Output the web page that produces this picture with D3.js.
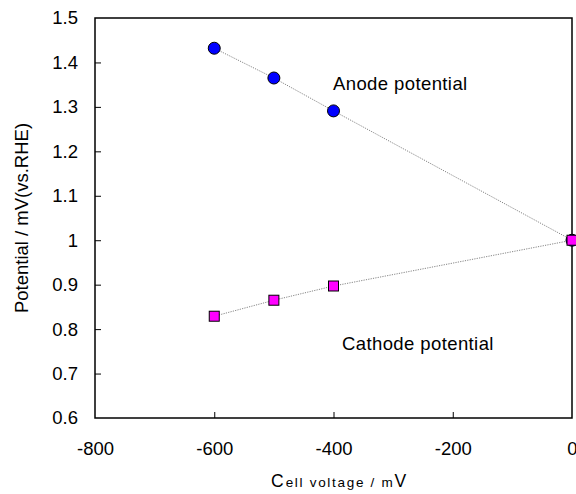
<!DOCTYPE html>
<html><head><meta charset="utf-8">
<script src="https://cdn.jsdelivr.net/npm/d3@7"></script>
<style>body{margin:0;background:#fff}svg{display:block}text{font-family:"Liberation Sans",Arial,sans-serif;fill:#000}</style>
</head><body><svg id="c" width="576" height="494"></svg>
<script>
const cellVoltage = [-600, -500, -400, 0];
const anodePotential = [1.432, 1.365, 1.291, 1.0];
const cathodePotential = [0.829, 0.865, 0.897, 1.0];
const xTicks = [-800, -600, -400, -200, 0];
const yTicks = [0.6, 0.7, 0.8, 0.9, 1.0, 1.1, 1.2, 1.3, 1.4, 1.5];

const svg = d3.select("#c");
const L = 95, R = 572, T = 18, B = 418;
const x = d3.scaleLinear().domain([-800, 0]).range([L, R]);
const y = d3.scaleLinear().domain([0.6, 1.5]).range([B, T]);

// frame
svg.append("rect").attr("x", L).attr("y", T).attr("width", R - L).attr("height", B - T)
  .attr("fill", "none").attr("stroke", "#000").attr("stroke-width", 1.5);

// axes
const xAxis = d3.axisBottom(x).tickValues(xTicks).tickSize(-6).tickPadding(24).tickFormat(d => String(d));
const gx = svg.append("g").attr("transform", `translate(0,${B})`).call(xAxis);
const yAxis = d3.axisLeft(y).tickValues(yTicks).tickSize(-6).tickPadding(17).tickFormat(d => d === 1 ? "1" : d.toFixed(1));
const gy = svg.append("g").attr("transform", `translate(${L},0)`).call(yAxis);
[gx, gy].forEach(g => {
  g.select(".domain").remove();
  g.selectAll(".tick line").attr("stroke", "#000").attr("stroke-width", 1);
  g.selectAll("text").attr("font-size", 18.5).attr("font-family", "Liberation Sans, Arial, sans-serif").attr("fill", "#000");
});
gy.selectAll(".tick").filter(d => d === 0.6 || d === 1.5).select("line").remove();
gx.selectAll(".tick").filter(d => d === -800 || d === 0).select("line").remove();

// lines
const line = d3.line().x((d, i) => x(cellVoltage[i])).y(d => y(d));
[anodePotential, cathodePotential].forEach(s => {
  svg.append("path").attr("d", line(s)).attr("fill", "none")
    .attr("stroke", "#777").attr("stroke-width", 0.9).attr("stroke-dasharray", "1.2,1.2");
});

// markers
svg.selectAll(".an").data(anodePotential).enter().append("circle")
  .attr("cx", (d, i) => x(cellVoltage[i])).attr("cy", d => y(d)).attr("r", 6)
  .attr("fill", "#0000ff").attr("stroke", "#000").attr("stroke-width", 1);
svg.selectAll(".ca").data(cathodePotential).enter().append("rect")
  .attr("x", (d, i) => x(cellVoltage[i]) - 5).attr("y", d => y(d) - 5)
  .attr("width", 10).attr("height", 10)
  .attr("fill", "#ff00ff").attr("stroke", "#000").attr("stroke-width", 1);

// annotations
svg.append("text").attr("x", 333).attr("y", 89.5).attr("font-size", 18.5).attr("letter-spacing", 0.4).text("Anode potential");
svg.append("text").attr("x", 342).attr("y", 349.5).attr("font-size", 18.5).attr("letter-spacing", 0.4).text("Cathode potential");

// axis titles
svg.append("text").attr("transform", `translate(28,${(T + B) / 2}) rotate(-90)`)
  .attr("text-anchor", "middle").attr("font-size", 18.5).text("Potential / mV(vs.RHE)");
const xt = svg.append("text").attr("x", 271).attr("y", 487).attr("font-size", 17.5);
xt.append("tspan").text("C");
xt.append("tspan").attr("font-size", 13.5).attr("letter-spacing", 1.7).attr("dx", 2).text("ell voltage / m");
xt.append("tspan").attr("font-size", 17.5).text("V");
</script></body></html>
